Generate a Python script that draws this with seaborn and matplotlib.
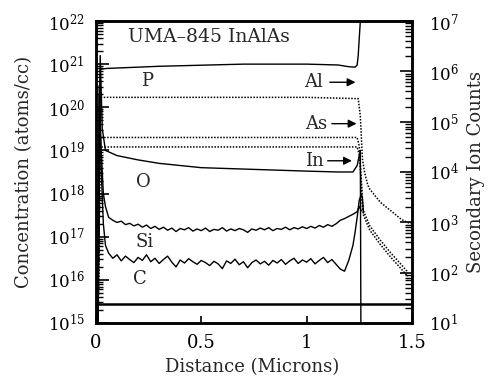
import numpy as np
import pandas as pd
import matplotlib
matplotlib.use("Agg")
import matplotlib.pyplot as plt
import matplotlib.ticker as mticker
import seaborn as sns

# ---------------- data (log10 of concentration, left-axis units) ----------------
x_grid = [round(0.06 + 0.02 * i, 2) for i in range(59)]  # 0.06 .. 1.22

si_noise = [17.45, 17.38, 17.33, 17.36, 17.28, 17.31, 17.25, 17.29, 17.22, 17.27,
            17.19, 17.24, 17.17, 17.22, 17.15, 17.20, 17.12, 17.19, 17.16, 17.21,
            17.13, 17.18, 17.14, 17.20, 17.12, 17.17, 17.15, 17.21, 17.13, 17.18,
            17.14, 17.19, 17.16, 17.10, 17.18, 17.15, 17.20, 17.16, 17.21, 17.14,
            17.19, 17.17, 17.22, 17.16, 17.21, 17.18, 17.23, 17.19, 17.24, 17.20,
            17.26, 17.22, 17.28, 17.24, 17.30, 17.38, 17.42, 17.47, 17.52]
c_noise = [16.62, 16.50, 16.58, 16.44, 16.55, 16.47, 16.40, 16.52, 16.45, 16.58,
           16.42, 16.50, 16.38, 16.47, 16.55, 16.41, 16.30, 16.46, 16.39, 16.49,
           16.42, 16.36, 16.45, 16.40, 16.33, 16.43, 16.37, 16.26, 16.44, 16.38,
           16.48, 16.35, 16.42, 16.28, 16.40, 16.46, 16.37, 16.43, 16.34, 16.45,
           16.39, 16.47, 16.36, 16.44, 16.50, 16.38, 16.46, 16.41, 16.49, 16.37,
           16.45, 16.52, 16.40, 16.47, 16.36, 16.25, 16.20, 16.45, 16.80]

si_x = [0.01, 0.015, 0.025, 0.035, 0.045] + x_grid + [1.24, 1.25, 1.26]
si_log = [15.0, 20.5, 19.0, 18.0, 17.7] + si_noise + [17.58, 17.70, 17.60]

c_x = [0.01, 0.015, 0.025, 0.035, 0.045] + x_grid + [1.23, 1.24, 1.25, 1.26, 1.265, 1.27]
c_log = [15.0, 20.3, 18.5, 17.3, 16.8] + c_noise + [17.10, 17.45, 17.85, 17.98, 17.90, 17.55]

o_x = [0.01, 0.02, 0.03, 0.045, 0.1, 0.2, 0.3, 0.5, 0.75, 1.0, 1.15, 1.22, 1.24, 1.255, 1.258]
o_log = [15.0, 21.2, 19.5, 19.0, 18.88, 18.78, 18.70, 18.60, 18.56, 18.52, 18.50, 18.50, 18.65, 19.0, 14.5]

p_x = [0.01, 0.02, 0.05, 0.3, 0.7, 1.0, 1.15, 1.2, 1.23, 1.24, 1.245, 1.25, 1.255, 1.26, 1.5]
p_log = [15.0, 20.88, 20.90, 20.95, 21.0, 21.0, 20.98, 20.94, 20.93, 20.98, 21.2, 21.6, 22.0, 22.3, 22.5]

al_x = [0.01, 0.02, 0.5, 1.0, 1.245, 1.255, 1.26, 1.265, 1.275, 1.29, 1.30, 1.35, 1.40, 1.45, 1.48, 1.50]
al_log = [15.0, 20.23, 20.23, 20.23, 20.20, 19.80, 19.30, 18.80, 18.50, 18.20, 18.10, 17.80, 17.60, 17.40, 17.33, 17.30]

as_x = [0.01, 0.02, 0.5, 1.0, 1.24, 1.25, 1.26, 1.265, 1.27, 1.30, 1.35, 1.40, 1.45, 1.48]
as_log = [15.0, 19.30, 19.30, 19.30, 19.30, 19.10, 18.30, 17.80, 17.60, 17.25, 16.92, 16.62, 16.35, 16.18]

in_x = [0.01, 0.02, 0.5, 1.0, 1.24, 1.25, 1.26, 1.265, 1.27, 1.30, 1.35, 1.40, 1.45, 1.48]
in_log = [15.0, 19.08, 19.08, 19.08, 19.08, 18.90, 18.20, 17.70, 17.50, 17.15, 16.82, 16.52, 16.25, 16.08]

baseline_log = 15.45

left_ticks_log = [15, 16, 17, 18, 19, 20, 21, 22]
left_tick_labels = [r'$10^{15}$', r'$10^{16}$', r'$10^{17}$', r'$10^{18}$',
                    r'$10^{19}$', r'$10^{20}$', r'$10^{21}$', r'$10^{22}$']
right_ticks_log = [1, 2, 3, 4, 5, 6, 7]
right_tick_labels = [r'$10^{1}$', r'$10^{2}$', r'$10^{3}$', r'$10^{4}$',
                     r'$10^{5}$', r'$10^{6}$', r'$10^{7}$']
x_ticks = [0, 0.5, 1, 1.5]
x_tick_labels = ['0', '0.5', '1', '1.5']

# ---------------- styling ----------------
sns.set_style('ticks')
plt.rcParams.update({
    'font.family': ['DejaVu Serif'],
    'mathtext.fontset': 'dejavuserif',
    'axes.axisbelow': False,
    'xtick.direction': 'in', 'ytick.direction': 'in',
    'xtick.major.size': 5, 'xtick.major.width': 1.2, 'xtick.color': 'black',
    'ytick.major.size': 9, 'ytick.major.width': 1.2, 'ytick.color': 'black',
    'ytick.minor.size': 5, 'ytick.minor.width': 1.0,
    'xtick.bottom': True, 'ytick.left': True,
})

fig = plt.figure(figsize=(4.96, 3.83), dpi=100)
ax = fig.add_axes([0.1935, 0.1567, 0.637, 0.7885])
ax.set_axisbelow(False)

solid = dict(color='black', lw=1.0, estimator=None, sort=False, ax=ax)
dotted = dict(color='black', lw=1.1, estimator=None, sort=False, ax=ax, linestyle=(0, (1, 1)))

def tenpow(v):
    return 10.0 ** np.asarray(v, dtype=float)

sns.lineplot(x=p_x, y=tenpow(p_log), **solid)
sns.lineplot(x=al_x, y=tenpow(al_log), **dotted)
sns.lineplot(x=as_x, y=tenpow(as_log), **dotted)
sns.lineplot(x=in_x, y=tenpow(in_log), **dotted)
sns.lineplot(x=o_x, y=tenpow(o_log), **solid)
sns.lineplot(x=si_x, y=tenpow(si_log), **solid)
sns.lineplot(x=c_x, y=tenpow(c_log), **solid)
ax.axhline(10.0 ** baseline_log, color='black', lw=1.8)

def minor_positions(lo, hi):
    return [m * 10.0 ** d for d in range(lo, hi) for m in range(2, 10)]

ax.set_yscale('log')
ax.set_xlim(0, 1.5)
ax.set_ylim(10.0 ** left_ticks_log[0], 10.0 ** left_ticks_log[-1])
ax.yaxis.set_major_locator(mticker.FixedLocator([10.0 ** t for t in left_ticks_log]))
ax.yaxis.set_major_formatter(mticker.FixedFormatter(left_tick_labels))
ax.yaxis.set_minor_locator(mticker.FixedLocator(minor_positions(left_ticks_log[0], left_ticks_log[-1])))
ax.yaxis.set_minor_formatter(mticker.NullFormatter())
ax.xaxis.set_major_locator(mticker.FixedLocator(x_ticks))
ax.xaxis.set_major_formatter(mticker.FixedFormatter(x_tick_labels))

ax2 = ax.twinx()
ax2.set_axisbelow(False)
ax2.set_yscale('log')
ax2.set_ylim(10.0 ** right_ticks_log[0], 10.0 ** right_ticks_log[-1])
ax2.yaxis.set_major_locator(mticker.FixedLocator([10.0 ** t for t in right_ticks_log]))
ax2.yaxis.set_major_formatter(mticker.FixedFormatter(right_tick_labels))
ax2.yaxis.set_minor_locator(mticker.FixedLocator(minor_positions(right_ticks_log[0], right_ticks_log[-1])))
ax2.yaxis.set_minor_formatter(mticker.NullFormatter())

for s in ax.spines.values():
    s.set_linewidth(1.8)
    s.set_color('black')
for s in ax2.spines.values():
    s.set_linewidth(1.8)
    s.set_color('black')

ax.set_xlabel('Distance (Microns)', fontsize=13)
ax.xaxis.set_label_coords(0.494, -0.115)
ax.set_ylabel('Concentration (atoms/cc)', fontsize=13)
ax.yaxis.set_label_coords(-0.198, 0.5)
ax2.set_ylabel('Secondary Ion Counts', fontsize=13)
ax2.yaxis.set_label_coords(1.175, 0.5)

# ---------------- annotations ----------------
ax.text(0.152, 10.0 ** 21.63, 'UMA–845 InAlAs', fontsize=13.5, va='center', ha='left')
ax.text(0.242, 10.0 ** 20.61, 'P', fontsize=13, va='center', ha='center')
ax.text(0.223, 10.0 ** 18.27, 'O', fontsize=13, va='center', ha='center')
ax.text(0.233, 10.0 ** 16.87, 'Si', fontsize=13, va='center', ha='center')
ax.text(0.209, 10.0 ** 16.02, 'C', fontsize=13, va='center', ha='center')

arrow = dict(arrowstyle='-|>', color='black', lw=1.0, mutation_scale=12, shrinkA=0, shrinkB=0)
ax.text(1.08, 10.0 ** 20.58, 'Al', fontsize=13, va='center', ha='right')
ax.annotate('', xy=(1.232, 10.0 ** 20.58), xytext=(1.11, 10.0 ** 20.58), arrowprops=arrow)
ax.text(1.10, 10.0 ** 19.62, 'As', fontsize=13, va='center', ha='right')
ax.annotate('', xy=(1.237, 10.0 ** 19.62), xytext=(1.12, 10.0 ** 19.62), arrowprops=arrow)
ax.text(1.08, 10.0 ** 18.76, 'In', fontsize=13, va='center', ha='right')
ax.annotate('', xy=(1.215, 10.0 ** 18.76), xytext=(1.10, 10.0 ** 18.76), arrowprops=arrow)

# tick styling applied last so nothing resets it
ax.tick_params(axis='y', which='major', left=True, right=False, direction='in', length=9, width=1.2,
               color='black', labelsize=12, pad=8)
ax.tick_params(axis='y', which='minor', left=True, right=False, direction='in', length=5, width=1.0,
               color='black')
ax.tick_params(axis='x', which='major', bottom=True, top=False, direction='in', length=5, width=1.2,
               color='black', labelsize=13, pad=8)
ax2.tick_params(axis='y', which='major', right=True, left=False, direction='in', length=9, width=1.2,
                color='black', labelsize=12, pad=12)
ax2.tick_params(axis='y', which='minor', right=True, left=False, direction='in', length=5, width=1.0,
                color='black')

fig.savefig('out.png', dpi=100)
